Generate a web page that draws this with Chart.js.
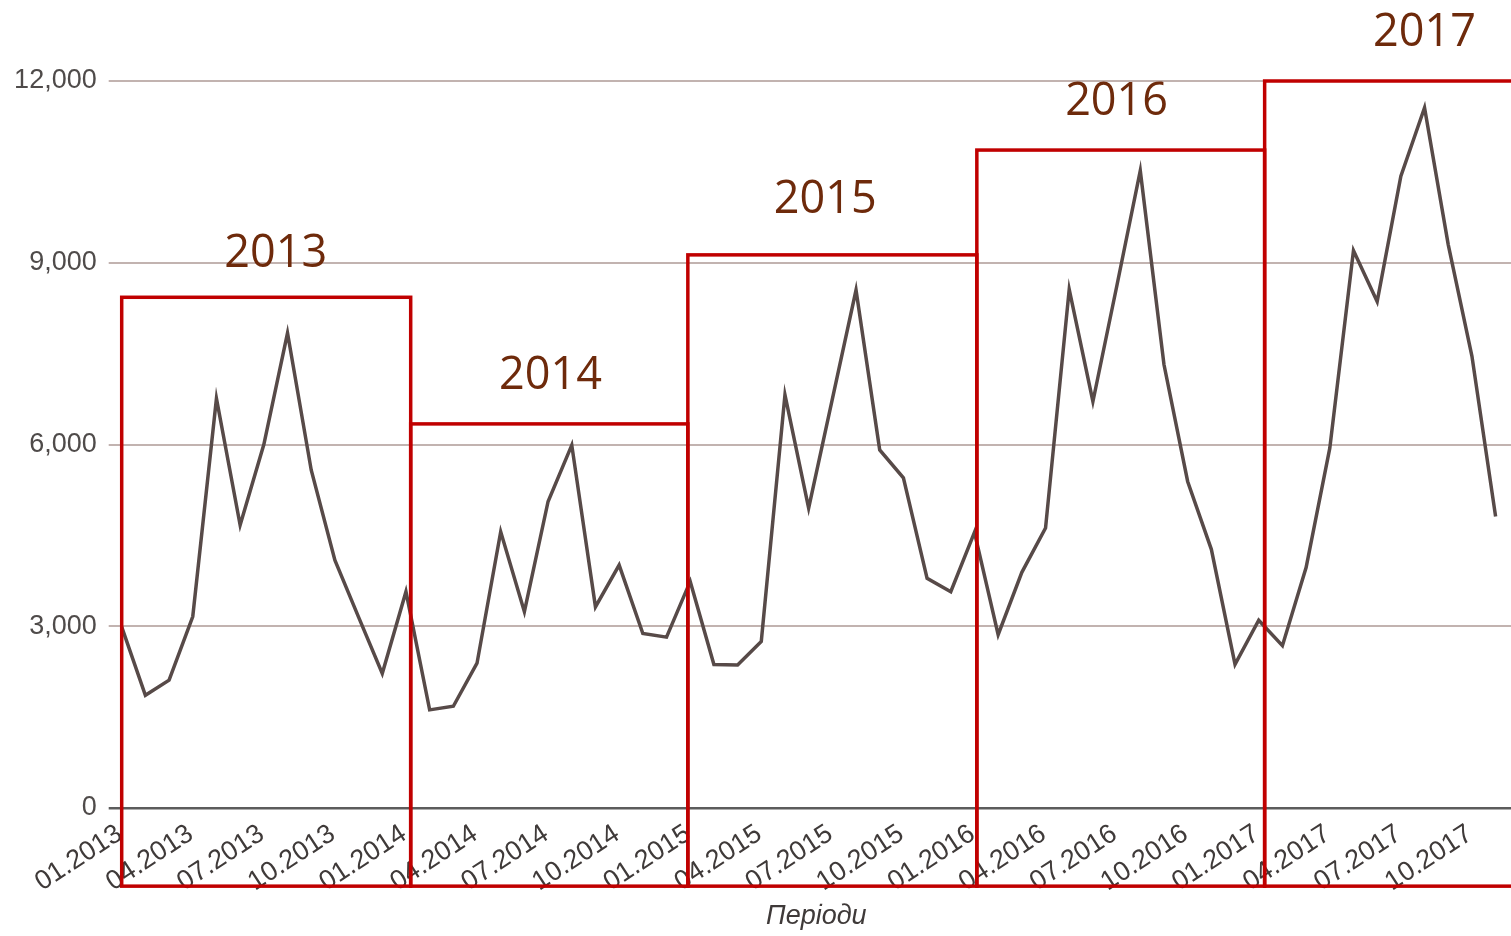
<!DOCTYPE html>
<html>
<head>
<meta charset="utf-8">
<script src="https://cdn.jsdelivr.net/npm/chart.js@4.4.1/dist/chart.umd.min.js"></script>
<style>
  html, body { margin: 0; padding: 0; background: #fff; }
  #wrap { width: 1511px; height: 936px; position: relative; }
</style>
</head>
<body>
<div id="wrap"><canvas id="salesChart"></canvas></div>
<script>
let periods = [
    '01.2013', '02.2013', '03.2013', '04.2013', '05.2013', '06.2013', '07.2013', '08.2013', '09.2013', '10.2013', '11.2013', '12.2013',
    '01.2014', '02.2014', '03.2014', '04.2014', '05.2014', '06.2014', '07.2014', '08.2014', '09.2014', '10.2014', '11.2014', '12.2014',
    '01.2015', '02.2015', '03.2015', '04.2015', '05.2015', '06.2015', '07.2015', '08.2015', '09.2015', '10.2015', '11.2015', '12.2015',
    '01.2016', '02.2016', '03.2016', '04.2016', '05.2016', '06.2016', '07.2016', '08.2016', '09.2016', '10.2016', '11.2016', '12.2016',
    '01.2017', '02.2017', '03.2017', '04.2017', '05.2017', '06.2017', '07.2017', '08.2017', '09.2017', '10.2017', '11.2017'
];

let values = [
    2990, 1860, 2110, 3160, 6760, 4670, 6000, 7840, 5580, 4090, 3150, 2220,
    3570, 1620, 1680, 2390, 4560, 3240, 5060, 5990, 3320, 4010, 2880, 2820,
    3740, 2370, 2360, 2750, 6820, 4950, 6750, 8550, 5910, 5450, 3790, 3570,
    4550, 2860, 3890, 4620, 8560, 6710, 8600, 10520, 7320, 5390, 4270, 2370,
    3100, 2680, 3970, 5940, 9200, 8360, 10430, 11560, 9300, 7460, 4810
];

let years = ['2013', '2014', '2015', '2016', '2017'];
let yTicks = [0, 3000, 6000, 9000, 12000];

// red frames around each year + the year captions above them
const yearBoxes = {
    id: 'yearBoxes',
    afterDraw: function (chart, args, options) {
        const { ctx, scales: { x, y } } = chart;
        ctx.save();

        ctx.strokeStyle = '#c00000';
        ctx.lineWidth = 3.5;
        ctx.lineJoin = 'miter';
        const bottom = y.getPixelForValue(options.bottomValue);
        for (let i = 0; i < years.length; i++) {
            const left = x.getPixelForValue(options.edges[i]);
            const right = i + 1 < years.length ? x.getPixelForValue(options.edges[i + 1]) : chart.width + 10;
            const top = y.getPixelForValue(options.tops[i]);
            ctx.strokeRect(left, top, right - left, bottom - top);
        }

        ctx.font = "45px 'Open Sans', sans-serif";
        ctx.fillStyle = '#6e2a0b';
        ctx.textAlign = 'center';
        ctx.textBaseline = 'alphabetic';
        for (let i = 0; i < years.length; i++) {
            const lx = x.getPixelForValue(options.labelAt[i][0]);
            const ly = y.getPixelForValue(options.labelAt[i][1]);
            ctx.fillText(years[i], lx, ly);
        }

        ctx.restore();
    }
};

const ctx = document.getElementById('salesChart').getContext('2d');
const myChart = new Chart(ctx, {
    type: 'line',
    data: {
        datasets: [{
            label: '',
            data: values.map((v, i) => ({ x: i, y: v })),
            borderColor: '#574a48',
            borderWidth: 3.5,
            borderJoinStyle: 'miter',
            pointRadius: 0,
            tension: 0,
            fill: false
        }]
    },
    options: {
        responsive: true,
        maintainAspectRatio: false,
        animation: false,
        layout: {
            padding: { top: 81, right: 0, bottom: 0, left: 0 }
        },
        scales: {
            x: {
                type: 'linear',
                min: 0,
                max: 58.65,
                grid: { display: false, drawTicks: false },
                border: { display: false },
                afterBuildTicks: function (scale) {
                    scale.ticks = periods
                        .map((p, i) => ({ value: i }))
                        .filter(t => t.value % 3 === 0);
                },
                afterFit: function (scale) {
                    scale.height = 128;
                    scale.paddingLeft = 0;
                    scale.paddingRight = 0;
                },
                ticks: {
                    autoSkip: false,
                    minRotation: 33,
                    maxRotation: 33,
                    padding: 10,
                    labelOffset: -2,
                    color: '#3f3a39',
                    font: { family: "'Liberation Sans', Arial, sans-serif", size: 27 },
                    callback: function (value) {
                        return periods[value];
                    }
                },
                title: {
                    display: true,
                    text: 'Періоди',
                    color: '#3f3a39',
                    padding: { top: 0, bottom: 3 },
                    font: { family: "'Liberation Sans', Arial, sans-serif", size: 27, style: 'italic' }
                }
            },
            y: {
                min: 0,
                max: 12000,
                border: { display: false },
                afterBuildTicks: function (scale) {
                    scale.ticks = yTicks.map(v => ({ value: v }));
                },
                afterFit: function (scale) {
                    scale.width = 121.7;
                    scale.paddingTop = 0;
                    scale.paddingBottom = 0;
                },
                grid: {
                    color: c => c.tick && c.tick.value === 0 ? '#5c5c5c' : '#c2b3b0',
                    lineWidth: c => c.tick && c.tick.value === 0 ? 2.5 : 2,
                    tickLength: 13,
                    drawTicks: true
                },
                ticks: {
                    padding: 12,
                    color: '#4f4b4a',
                    font: { family: "'Liberation Sans', Arial, sans-serif", size: 27 },
                    callback: function (value) {
                        return value.toLocaleString('en-US');
                    }
                }
            }
        },
        plugins: {
            legend: { display: false },
            tooltip: { enabled: false },
            yearBoxes: {
                edges: [0, 12.2, 23.9, 36.1, 48.25],
                tops: [8430, 6340, 9130, 10860, 12000],
                bottomValue: -1290,
                labelAt: [[6.5, 8930], [18.1, 6916], [29.7, 9821], [42, 11439], [55, 12578]]
            }
        }
    },
    plugins: [yearBoxes]
});
</script>
</body>
</html>
